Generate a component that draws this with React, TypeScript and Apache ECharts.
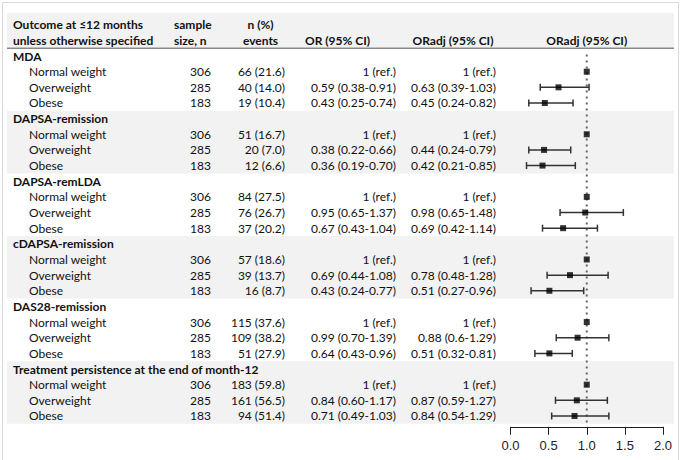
import React, { useEffect, useRef } from "react";
import * as echarts from "echarts";

// ---------------- data ----------------
const groups = [
  "MDA",
  "DAPSA-remission",
  "DAPSA-remLDA",
  "cDAPSA-remission",
  "DAS28-remission",
  "Treatment persistence at the end of month-12",
];
const weightClasses = ["Normal weight", "Overweight", "Obese"];
const sampleSizes = [306, 285, 183];
const eventCounts = [
  [66, 40, 19],
  [51, 20, 12],
  [84, 76, 37],
  [57, 39, 16],
  [115, 109, 51],
  [183, 161, 94],
];
const eventPcts = [
  [21.6, 14.0, 10.4],
  [16.7, 7.0, 6.6],
  [27.5, 26.7, 20.2],
  [18.6, 13.7, 8.7],
  [37.6, 38.2, 27.9],
  [59.8, 56.5, 51.4],
];
const orLabels = [
  ["1 (ref.)", "0.59 (0.38-0.91)", "0.43 (0.25-0.74)"],
  ["1 (ref.)", "0.38 (0.22-0.66)", "0.36 (0.19-0.70)"],
  ["1 (ref.)", "0.95 (0.65-1.37)", "0.67 (0.43-1.04)"],
  ["1 (ref.)", "0.69 (0.44-1.08)", "0.43 (0.24-0.77)"],
  ["1 (ref.)", "0.99 (0.70-1.39)", "0.64 (0.43-0.96)"],
  ["1 (ref.)", "0.84 (0.60-1.17)", "0.71 (0.49-1.03)"],
];
const orAdjLabels = [
  ["1 (ref.)", "0.63 (0.39-1.03)", "0.45 (0.24-0.82)"],
  ["1 (ref.)", "0.44 (0.24-0.79)", "0.42 (0.21-0.85)"],
  ["1 (ref.)", "0.98 (0.65-1.48)", "0.69 (0.42-1.14)"],
  ["1 (ref.)", "0.78 (0.48-1.28)", "0.51 (0.27-0.96)"],
  ["1 (ref.)", "0.88 (0.6-1.29)", "0.51 (0.32-0.81)"],
  ["1 (ref.)", "0.87 (0.59-1.27)", "0.84 (0.54-1.29)"],
];
const orAdjEst = [
  [1, 0.63, 0.45],
  [1, 0.44, 0.42],
  [1, 0.98, 0.69],
  [1, 0.78, 0.51],
  [1, 0.88, 0.51],
  [1, 0.87, 0.84],
];
const orAdjLo = [
  [null, 0.39, 0.24],
  [null, 0.24, 0.21],
  [null, 0.65, 0.42],
  [null, 0.48, 0.27],
  [null, 0.6, 0.32],
  [null, 0.59, 0.54],
];
const orAdjHi = [
  [null, 1.03, 0.82],
  [null, 0.79, 0.85],
  [null, 1.48, 1.14],
  [null, 1.28, 0.96],
  [null, 1.29, 0.81],
  [null, 1.27, 1.29],
];
const headerOutcome = ["Outcome at \u226412 months", "unless otherwise specified"];
const headerSample = ["sample", "size, n"];
const headerEvents = ["n (%)", "events"];
const headerOR = "OR (95% CI)";
const headerORadj = "ORadj (95% CI)";
const shadedGroups = [1, 3, 5];
const referenceValue = 1;
const xTicks = [0, 0.5, 1, 1.5, 2];

// ---------------- layout ----------------
const HEADER_ROWS = 2;
const ROWS_PER_GROUP = 4;
const TOTAL_ROWS = HEADER_ROWS + groups.length * ROWS_PER_GROUP;
const FONT = "Lato, 'Noto Sans', sans-serif";
const TEXT = "#111";

const GRID_TOP = 16.9;
const GRID_BOTTOM = 36.2;
const FOREST_LEFT = 510.5;
const FOREST_RIGHT = 21;

function buildColumn(
  header: string[],
  groupRow: (g: number) => string,
  cell: (g: number, k: number) => string
): string[] {
  const out: string[] = [...header];
  groups.forEach((_, g) => {
    out.push(groupRow(g));
    for (let k = 0; k < weightClasses.length; k++) out.push(cell(g, k));
  });
  return out;
}

const colGroup = buildColumn(headerOutcome, (g) => groups[g], () => "");
const colName = buildColumn(["", ""], () => "", (_g, k) => weightClasses[k]);
const colSample = buildColumn(
  headerSample.map((h) => `{h|${h}}`),
  () => "",
  (_g, k) => String(sampleSizes[k])
);
const colEvents = buildColumn(
  headerEvents.map((h) => `{h|${h}}`),
  () => "",
  (g, k) => `${eventCounts[g][k]} (${eventPcts[g][k].toFixed(1)})`
);
const colOR = buildColumn(["", `{h|${headerOR}}`], () => "", (g, k) => orLabels[g][k]);
const colORadj = buildColumn(["", `{h|${headerORadj}}`], () => "", (g, k) => orAdjLabels[g][k]);
const colForestHead = buildColumn(["", `{h|${headerORadj}}`], () => "", () => "");

const rowCenter = (g: number, k: number) => HEADER_ROWS + g * ROWS_PER_GROUP + 1 + k + 0.5;

const pointData: number[][] = [];
const errData: number[][] = [];
groups.forEach((_, g) => {
  weightClasses.forEach((_w, k) => {
    pointData.push([orAdjEst[g][k], rowCenter(g, k)]);
    const lo = orAdjLo[g][k];
    const hi = orAdjHi[g][k];
    if (lo != null && hi != null) errData.push([lo, hi, rowCenter(g, k)]);
  });
});

const bandData: number[][] = [[-0.25, HEADER_ROWS]];
shadedGroups.forEach((g) => {
  const s = HEADER_ROWS + g * ROWS_PER_GROUP;
  bandData.push([s, s + ROWS_PER_GROUP]);
});

function tableAxis(
  data: string[],
  offset: number,
  align: string,
  weight: string,
  rich?: any
) {
  return {
    type: "category",
    gridIndex: 0,
    position: "left",
    offset,
    inverse: true,
    data,
    z: 10,
    axisLine: { show: false },
    axisTick: { show: false },
    splitLine: { show: false },
    axisLabel: {
      show: true,
      interval: 0,
      margin: 0,
      align,
      fontFamily: FONT,
      fontSize: 12,
      fontWeight: weight,
      color: TEXT,
      rich,
    },
  };
}

const headRich = (width: number, align: string) => ({
  h: { width, align, fontFamily: FONT, fontSize: 12, fontWeight: "bold", color: TEXT },
});

export default function App() {
  const ref = useRef<HTMLDivElement>(null);
  useEffect(() => {
    document.body.style.margin = "0";
    if (!ref.current) return;
    const chart = echarts.init(ref.current, undefined, { renderer: "svg" });
    const xAnchor = (x: number) => FOREST_LEFT - x;
    const option: any = {
      animation: false,
      backgroundColor: "#fff",
      grid: [
        {
          left: FOREST_LEFT,
          right: FOREST_RIGHT,
          top: GRID_TOP,
          bottom: GRID_BOTTOM,
          containLabel: false,
          outerBoundsMode: "none",
        },
        {
          left: 7,
          right: 10,
          top: GRID_TOP,
          bottom: GRID_BOTTOM,
          containLabel: false,
          outerBoundsMode: "none",
        },
      ],
      xAxis: [
        {
          type: "value",
          gridIndex: 0,
          position: "bottom",
          min: xTicks[0],
          max: xTicks[xTicks.length - 1],
          interval: xTicks[1] - xTicks[0],
          offset: 3,
          axisLine: { show: true, onZero: false, lineStyle: { color: "#222", width: 1 } },
          axisTick: { show: true, length: 8, lineStyle: { color: "#222", width: 1 } },
          axisLabel: {
            margin: 12,
            formatter: (v: number) => v.toFixed(1),
            fontFamily: "'Liberation Sans', Arial, sans-serif",
            fontSize: 13,
            color: "#222",
          },
          splitLine: { show: false },
        },
        { type: "value", gridIndex: 1, min: 0, max: 1, show: false },
      ],
      yAxis: [
        tableAxis(colGroup, xAnchor(13), "left", "bold"),
        tableAxis(colName, xAnchor(29), "left", "normal"),
        tableAxis(colSample, xAnchor(211), "right", "normal", headRich(37, "left")),
        tableAxis(colEvents, xAnchor(285), "right", "normal", headRich(49, "center")),
        tableAxis(colOR, xAnchor(396), "right", "normal", headRich(117, "center")),
        tableAxis(colORadj, xAnchor(496), "right", "normal", headRich(86, "center")),
        tableAxis(colForestHead, 0, "left", "normal", headRich(152.5, "center")),
        { type: "value", gridIndex: 0, min: 0, max: TOTAL_ROWS, inverse: true, show: false },
        { type: "value", gridIndex: 1, min: 0, max: TOTAL_ROWS, inverse: true, show: false },
      ],
      graphic: [
        {
          type: "rect",
          shape: { x: 2.5, y: 2.5, width: 676, height: 470 },
          style: { fill: "none", stroke: "#d9d9d9", lineWidth: 1 },
          z: 100,
        },
      ],
      series: [
        {
          type: "custom",
          xAxisIndex: 1,
          yAxisIndex: 8,
          z: 0,
          clip: false,
          silent: true,
          data: bandData,
          renderItem: (_p: any, api: any) => {
            const p1 = api.coord([0, api.value(0)]);
            const p2 = api.coord([1, api.value(1)]);
            return {
              type: "rect",
              shape: { x: p1[0], y: p1[1], width: p2[0] - p1[0], height: p2[1] - p1[1] },
              style: { fill: "#f2f2f2" },
            };
          },
        },
        {
          type: "line",
          xAxisIndex: 1,
          yAxisIndex: 8,
          z: 3,
          silent: true,
          symbol: "none",
          data: [
            [0, HEADER_ROWS],
            [1, HEADER_ROWS],
          ],
          lineStyle: { color: "#555", width: 1 },
        },
        {
          type: "line",
          xAxisIndex: 0,
          yAxisIndex: 7,
          z: 3,
          silent: true,
          symbol: "none",
          data: [
            [referenceValue, HEADER_ROWS + 0.4],
            [referenceValue, TOTAL_ROWS],
          ],
          lineStyle: { color: "#666", width: 2, type: [2, 4] },
        },
        {
          type: "custom",
          xAxisIndex: 0,
          yAxisIndex: 7,
          z: 4,
          silent: true,
          clip: false,
          data: errData,
          renderItem: (_p: any, api: any) => {
            const a = api.coord([api.value(0), api.value(2)]);
            const b = api.coord([api.value(1), api.value(2)]);
            const cap = 3.5;
            const st = { stroke: "#333", lineWidth: 1.5 };
            return {
              type: "group",
              children: [
                { type: "line", shape: { x1: a[0], y1: a[1], x2: b[0], y2: b[1] }, style: st },
                { type: "line", shape: { x1: a[0], y1: a[1] - cap, x2: a[0], y2: a[1] + cap }, style: st },
                { type: "line", shape: { x1: b[0], y1: b[1] - cap, x2: b[0], y2: b[1] + cap }, style: st },
              ],
            };
          },
        },
        {
          type: "scatter",
          xAxisIndex: 0,
          yAxisIndex: 7,
          z: 5,
          silent: true,
          symbol: "rect",
          symbolSize: 6,
          itemStyle: { color: "#000" },
          data: pointData,
        },
      ],
    };
    chart.setOption(option);
    return () => chart.dispose();
  }, []);
  return <div ref={ref} style={{ width: 684, height: 460 }} />;
}
